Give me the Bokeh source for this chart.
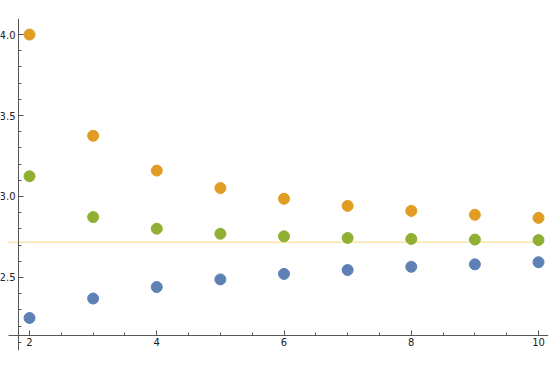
from bokeh.plotting import figure
from bokeh.models import LinearAxis, Range1d, SingleIntervalTicker, ColumnDataSource, PrintfTickFormatter
from bokeh.embed import file_html
from bokeh.resources import INLINE

n = [2, 3, 4, 5, 6, 7, 8, 9, 10]
lower = [2.250, 2.370, 2.441, 2.488, 2.522, 2.546, 2.566, 2.581, 2.594]
upper = [4.000, 3.375, 3.160, 3.052, 2.986, 2.942, 2.911, 2.887, 2.868]
middle = [3.125, 2.873, 2.801, 2.770, 2.754, 2.744, 2.738, 2.734, 2.731]
ref_level = 2.718

x_lo, x_hi = 1.544, 10.157
y_lo, y_hi = 2.049, 4.099
x_start = 1.67
x_cross, y_cross = 1.827, 2.142

p = figure(width=550, height=370, output_backend="svg", toolbar_location=None,
           x_range=Range1d(x_lo, x_hi), y_range=Range1d(y_lo, y_hi),
           x_axis_location=None, y_axis_location=None,
           min_border_left=0, min_border_right=2, min_border_top=18, min_border_bottom=20)
p.outline_line_color = None
p.grid.visible = False
p.background_fill_color = "white"

def style(ax):
    ax.axis_line_color = "#555555"
    ax.major_tick_line_color = "#555555"
    ax.minor_tick_line_color = "#555555"
    ax.major_tick_in = 5
    ax.major_tick_out = 0
    ax.minor_tick_in = 3
    ax.minor_tick_out = 0
    ax.major_label_text_font = "DejaVu Sans"
    ax.major_label_text_font_size = "10px"
    ax.major_label_text_color = "#222222"
    ax.major_label_standoff = 3

xa = LinearAxis(fixed_location=y_cross, bounds=(x_start, x_hi),
                ticker=SingleIntervalTicker(interval=2, num_minor_ticks=4))
ya = LinearAxis(fixed_location=x_cross, bounds=(y_lo, y_hi),
                ticker=SingleIntervalTicker(interval=0.5, num_minor_ticks=5),
                formatter=PrintfTickFormatter(format="%.1f"))
style(xa); style(ya)
p.add_layout(xa, "below")
p.add_layout(ya, "left")

p.line(x=[x_start, n[-1]], y=[ref_level, ref_level], line_color="#F9E4A6", line_width=1.5)

src = ColumnDataSource(dict(n=n, lower=lower, upper=upper, middle=middle))
p.scatter("n", "lower", source=src, size=11, color="#5E81B5")
p.scatter("n", "upper", source=src, size=11, color="#E19C24")
p.scatter("n", "middle", source=src, size=11, color="#8FB032")

open("out.html", "w").write(file_html(p, INLINE))
